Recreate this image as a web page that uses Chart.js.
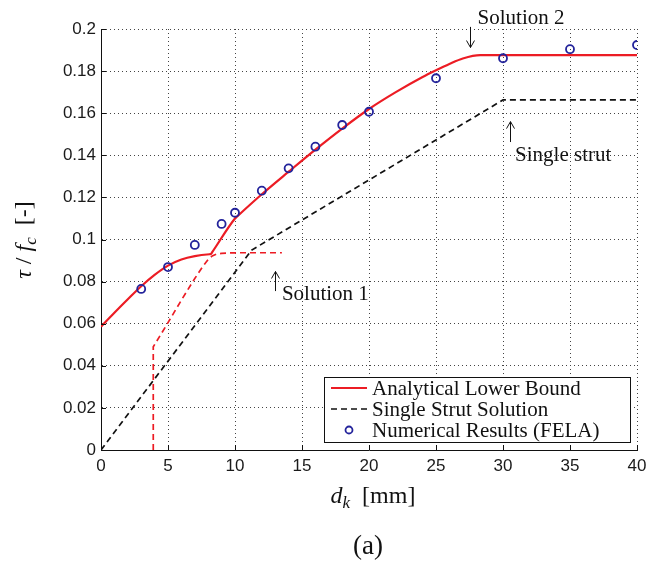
<!DOCTYPE html>
<html>
<head>
<meta charset="utf-8">
<script src="https://cdn.jsdelivr.net/npm/chart.js@4.4.1/dist/chart.umd.min.js"></script>
<style>
html,body{margin:0;padding:0;background:#fff;}
#wrap{width:646px;height:562px;position:relative;}
</style>
</head>
<body>
<div id="wrap"><canvas id="c" width="646" height="562"></canvas></div>
<script>
// ---- data ----
const xTickLabels = ['0','5','10','15','20','25','30','35','40'];
const yTickLabels = ['0','0.02','0.04','0.06','0.08','0.1','0.12','0.14','0.16','0.18','0.2'];

const lowerBoundX = [0, 1, 2, 3, 4, 5, 6, 7, 8.1, 8.2, 8.3, 10, 10.1, 12, 14, 16, 18, 20, 22, 24, 25, 26, 27, 28.3, 40];
const lowerBoundY = [0.0586, 0.0652, 0.0716, 0.0778, 0.0832, 0.0876, 0.0905, 0.0921, 0.0930, 0.0931, 0.0940, 0.1100, 0.1106, 0.1215, 0.1322, 0.1427, 0.1527, 0.1620, 0.1700, 0.1772, 0.1804, 0.1834, 0.1860, 0.1876, 0.1876];

const solution1X = [3.9, 3.9, 5, 6, 7, 7.6, 8.0, 8.3, 8.6, 9.0, 9.5, 10.2, 13.5];
const solution1Y = [0, 0.049, 0.0605, 0.0712, 0.0815, 0.0872, 0.0905, 0.0922, 0.0930, 0.0934, 0.0936, 0.0937, 0.0937];

const strutX = [0, 11.25, 30, 40];
const strutY = [0, 0.0950, 0.1663, 0.1663];

const felaX = [3, 5, 7, 9, 10, 12, 14, 16, 18, 20, 25, 30, 35, 40];
const felaY = [0.0765, 0.0869, 0.0974, 0.1074, 0.1127, 0.1232, 0.1338, 0.1441, 0.1544, 0.1607, 0.1766, 0.1861, 0.1904, 0.1924];

const legendLabels = ['Analytical Lower Bound', 'Single Strut Solution', 'Numerical Results (FELA)'];

const annTexts = ['Solution 2', 'Single strut', 'Solution 1'];
const annArrowX = [27.5, 30.5, 13.0];
const annArrowFrom = [0.2010, 0.1463, 0.0755];
const annArrowTo = [0.1912, 0.1560, 0.0848];
const annTextX = [28.1, 30.9, 13.5];
const annTextY = [0.2052, 0.1401, 0.0741];

// ---- styles ----
const RED = '#ec1c24';
const BLUE = '#23239b';
const SERIF = '"Liberation Serif", "Times New Roman", serif';
const SANS = '"Liberation Sans", Arial, sans-serif';

const pts = (xs, ys) => xs.map((x, i) => ({x: x, y: ys[i]}));

function arrow(ctx, x, y1, y2) {
  ctx.save();
  ctx.strokeStyle = '#111';
  ctx.lineWidth = 1;
  ctx.beginPath();
  ctx.moveTo(x, y1);
  ctx.lineTo(x, y2);
  const d = y2 > y1 ? -1 : 1;
  ctx.moveTo(x - 4, y2 + d * 7);
  ctx.lineTo(x, y2);
  ctx.lineTo(x + 4, y2 + d * 7);
  ctx.stroke();
  ctx.restore();
}

const decorPlugin = {
  id: 'decor',
  afterDatasetsDraw(chart) {
    const ctx = chart.ctx;
    const xs = chart.scales.x, ys = chart.scales.y;
    const area = chart.chartArea;

    // inward tick marks
    ctx.save();
    ctx.strokeStyle = '#111';
    ctx.lineWidth = 1;
    ctx.beginPath();
    xs.ticks.forEach(t => {
      const px = Math.round(xs.getPixelForValue(t.value)) + 0.5;
      ctx.moveTo(px, area.bottom);
      ctx.lineTo(px, area.bottom - 5);
    });
    ys.ticks.forEach(t => {
      const py = Math.round(ys.getPixelForValue(t.value)) + 0.5;
      ctx.moveTo(area.left, py);
      ctx.lineTo(area.left + 5, py);
    });
    ctx.stroke();
    ctx.restore();

    // annotations
    ctx.save();
    ctx.fillStyle = '#111';
    ctx.font = '21px ' + SERIF;
    ctx.textAlign = 'left';
    ctx.textBaseline = 'middle';
    annTexts.forEach((txt, i) => {
      const ax = Math.round(xs.getPixelForValue(annArrowX[i])) + 0.5;
      arrow(ctx, ax, ys.getPixelForValue(annArrowFrom[i]), ys.getPixelForValue(annArrowTo[i]));
      ctx.fillText(txt, xs.getPixelForValue(annTextX[i]), ys.getPixelForValue(annTextY[i]));
    });
    ctx.restore();

    // legend box
    const lx = area.left + 223, ly = area.top + 348, lw = 306, lh = 65;
    ctx.save();
    ctx.fillStyle = '#fff';
    ctx.fillRect(lx, ly, lw, lh);
    ctx.strokeStyle = '#111';
    ctx.lineWidth = 1;
    ctx.strokeRect(lx + 0.5, ly + 0.5, lw, lh);
    ctx.font = '21px ' + SERIF;
    ctx.fillStyle = '#111';
    ctx.textBaseline = 'middle';
    const rows = [ly + 11, ly + 32, ly + 53];
    ctx.strokeStyle = RED; ctx.lineWidth = 2; ctx.setLineDash([]);
    ctx.beginPath(); ctx.moveTo(lx + 7, rows[0]); ctx.lineTo(lx + 43, rows[0]); ctx.stroke();
    ctx.strokeStyle = '#111'; ctx.lineWidth = 1.6; ctx.setLineDash([6, 4]);
    ctx.beginPath(); ctx.moveTo(lx + 7, rows[1]); ctx.lineTo(lx + 43, rows[1]); ctx.stroke();
    ctx.setLineDash([]);
    ctx.strokeStyle = BLUE; ctx.lineWidth = 1.8;
    ctx.beginPath(); ctx.arc(lx + 25, rows[2], 3.5, 0, Math.PI * 2); ctx.stroke();
    legendLabels.forEach((l, i) => ctx.fillText(l, lx + 48, rows[i] + 1));
    ctx.restore();

    // axis titles
    ctx.save();
    ctx.fillStyle = '#111';
    ctx.textBaseline = 'alphabetic';
    const parts = [
      {t: 'd', f: 'italic 24px ' + SERIF, dy: 0},
      {t: 'k', f: 'italic 17px ' + SERIF, dy: 5},
      {t: '  [mm]', f: '24px ' + SERIF, dy: 0}
    ];
    let w = 0;
    parts.forEach(p => { ctx.font = p.f; p.w = ctx.measureText(p.t).width; w += p.w; });
    let cx = 373 - w / 2;
    parts.forEach(p => { ctx.font = p.f; ctx.fillText(p.t, cx, 503 + p.dy); cx += p.w; });

    ctx.font = '27px ' + SERIF;
    ctx.textAlign = 'center';
    ctx.fillText('(a)', 368, 554);
    ctx.textAlign = 'left';

    ctx.translate(31, 240);
    ctx.rotate(-Math.PI / 2);
    const yparts = [
      {t: 'τ', f: 'italic 24px ' + SERIF, dy: 0},
      {t: ' / ', f: '24px ' + SERIF, dy: 0},
      {t: 'f', f: 'italic 24px ' + SERIF, dy: 0},
      {t: 'c', f: 'italic 17px ' + SERIF, dy: 5},
      {t: '  [-]', f: '24px ' + SERIF, dy: 0}
    ];
    w = 0;
    yparts.forEach(p => { ctx.font = p.f; p.w = ctx.measureText(p.t).width; w += p.w; });
    cx = -w / 2;
    yparts.forEach(p => { ctx.font = p.f; ctx.fillText(p.t, cx, p.dy); cx += p.w; });
    ctx.restore();
  }
};

const gridCommon = {
  color: '#444',
  lineWidth: 1,
  drawTicks: false
};

new Chart(document.getElementById('c'), {
  type: 'scatter',
  data: {
    datasets: [
      {
        label: legendLabels[2],
        data: pts(felaX, felaY),
        showLine: false,
        pointRadius: 4,
        pointHoverRadius: 4,
        pointBorderWidth: 1.8,
        pointBorderColor: BLUE,
        pointBackgroundColor: 'rgba(0,0,0,0)',
        order: 0
      },
      {
        label: legendLabels[0],
        data: pts(lowerBoundX, lowerBoundY),
        showLine: true,
        borderColor: RED,
        borderWidth: 2.2,
        pointRadius: 0,
        cubicInterpolationMode: 'monotone',
        order: 1
      },
      {
        label: 'Solution 1',
        data: pts(solution1X, solution1Y),
        showLine: true,
        borderColor: RED,
        borderWidth: 1.7,
        borderDash: [6, 4],
        pointRadius: 0,
        tension: 0,
        order: 2
      },
      {
        label: legendLabels[1],
        data: pts(strutX, strutY),
        showLine: true,
        borderColor: '#111',
        borderWidth: 1.7,
        borderDash: [6, 4],
        pointRadius: 0,
        tension: 0,
        order: 3
      }
    ]
  },
  options: {
    responsive: false,
    animation: false,
    devicePixelRatio: 1,
    layout: {padding: {left: 0, right: 9, top: 29, bottom: 0}},
    plugins: {
      legend: {display: false},
      tooltip: {enabled: false}
    },
    scales: {
      x: {
        type: 'linear',
        min: 0, max: 40,
        ticks: {
          stepSize: 5,
          color: '#1a1a1a',
          font: {family: SANS, size: 17},
          padding: 6,
          maxRotation: 0,
          callback: (v) => xTickLabels[Math.round(v / 5)]
        },
        grid: gridCommon,
        border: {display: true, color: '#111', width: 1, dash: [1, 3]},
        afterFit: (s) => { s.height = 112; s.paddingLeft = 0; s.paddingRight = 0; }
      },
      y: {
        type: 'linear',
        min: 0, max: 0.2,
        ticks: {
          stepSize: 0.02,
          color: '#1a1a1a',
          font: {family: SANS, size: 17},
          padding: 5,
          callback: (v) => yTickLabels[Math.round(v / 0.02)]
        },
        grid: gridCommon,
        border: {display: true, color: '#111', width: 1, dash: [1, 3]},
        afterFit: (s) => { s.width = 101; s.paddingTop = 0; s.paddingBottom = 0; }
      }
    }
  },
  plugins: [decorPlugin]
});
</script>
</body>
</html>
